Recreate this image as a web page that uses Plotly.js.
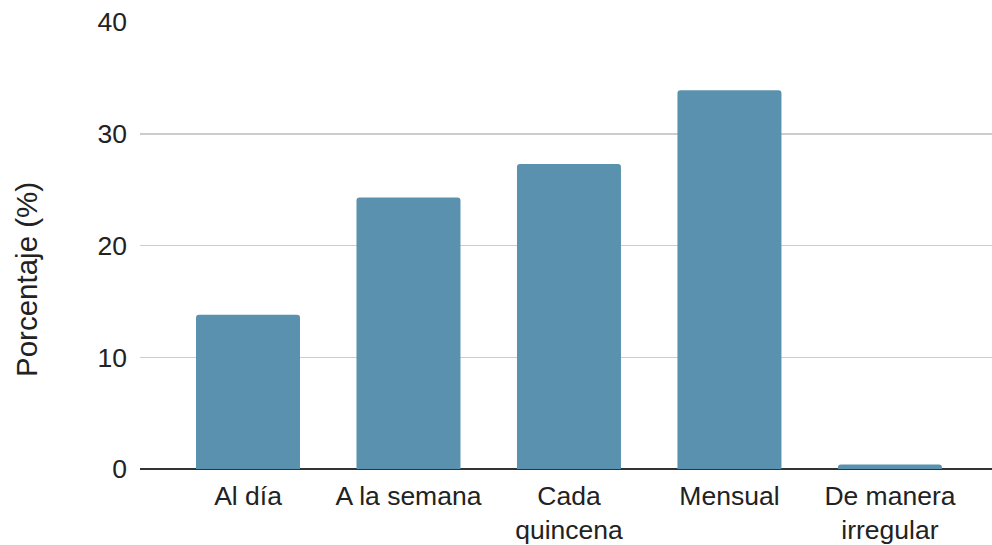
<!DOCTYPE html>
<html>
<head>
<meta charset="utf-8">
<script src="https://cdn.plot.ly/plotly-3.0.1.min.js"></script>
<style>html,body{margin:0;padding:0;background:#fff;}#chart{width:992px;height:545px;}</style>
</head>
<body>
<div id="chart"></div>
<script>
const categories = ["Al día", "A la semana", "Cada<br>quincena", "Mensual", "De manera<br>irregular"];
const values = [13.8, 24.3, 27.3, 33.9, 0.4];
const yTicks = [0, 10, 20, 30, 40];
const yTitle = "Porcentaje (%)";

const trace = {
  type: "bar",
  x: [0, 1, 2, 3, 4],
  y: values,
  marker: { color: "rgb(89,145,174)", cornerradius: 3, line: { width: 0 } },
  hoverinfo: "skip"
};

const layout = {
  width: 992,
  height: 545,
  margin: { l: 140, r: 0, t: 22, b: 76, pad: 0 },
  paper_bgcolor: "#fff",
  plot_bgcolor: "#fff",
  bargap: 0.352,
  showlegend: false,
  font: { family: "Liberation Sans, Arial, sans-serif", color: "#222", size: 27 },
  xaxis: {
    range: [-0.673, 4.636],
    tickmode: "array",
    tickvals: [0, 1, 2, 3, 4],
    ticktext: categories,
    showgrid: false,
    zeroline: false,
    showline: false,
    ticks: "",
    ticklabelstandoff: 8,
    tickfont: { size: 26.5, color: "#222" },
    fixedrange: true
  },
  yaxis: {
    range: [0, 40],
    tickmode: "array",
    tickvals: yTicks,
    ticktext: yTicks.map(String),
    showgrid: true,
    gridcolor: "#cccccc",
    gridwidth: 1.5,
    zeroline: true,
    zerolinecolor: "#333333",
    zerolinewidth: 2,
    showline: false,
    ticks: "",
    ticklabelstandoff: 12,
    tickfont: { size: 26.5, color: "#222" },
    fixedrange: true
  },
  annotations: [{
    text: yTitle,
    xref: "paper", yref: "paper",
    x: (26 - 140) / 852, y: (469 - 280) / 447,
    xanchor: "center", yanchor: "middle",
    textangle: -90,
    showarrow: false,
    font: { size: 29.5, color: "#222" }
  }]
};

Plotly.newPlot("chart", [trace], layout, { displayModeBar: false, staticPlot: true });
</script>
</body>
</html>
